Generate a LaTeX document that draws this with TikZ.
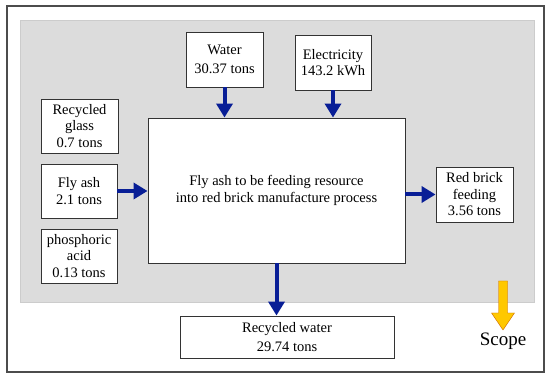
\documentclass[tikz,border=0pt]{standalone}
\usepackage{fontspec}
\setmainfont{Liberation Serif}
\usetikzlibrary{arrows.meta,positioning}

\definecolor{flowblue}{RGB}{8,30,150}
\definecolor{scopegrey}{RGB}{220,220,220}
\definecolor{scopeyellow}{RGB}{255,200,0}

\tikzstyle{item} = [
rectangle,
draw=black!80,
line width=0.9pt,
fill=white,
inner sep=0pt,
align=center,
font=\fontsize{14.5}{16.5}\selectfont
]
\tikzstyle{flow} = [
line width=4pt,
flowblue,
-{Triangle[length=14pt,width=16pt]}
]

\begin{document}
\begin{tikzpicture}[
x=1pt,
y=-1pt
]

\useasboundingbox (0,0) rectangle (550,379);

\draw [black!70, line width=1.2pt] (7,6) rectangle (544,372);

\draw [fill=scopegrey, draw=black!20, line width=1pt] (20,21) rectangle (534,303);

\node (main) [item, minimum width=257pt, minimum height=145pt]
at (276.5,190.5)
{Fly ash to be feeding resource\\ into red brick manufacture process};

\node (water) [item, minimum width=77pt, minimum height=55pt,
font=\fontsize{14.5}{19}\selectfont]
at (224.5,59.5)
{Water\\30.37 tons};

\node (elec) [item, minimum width=76pt, minimum height=55pt]
at (333,62.5)
{Electricity\\143.2 kWh};

\node (glass) [item, minimum width=77pt, minimum height=54pt]
at (79.5,126)
{Recycled\\glass\\ 0.7 tons};

\node (flyash) [item, minimum width=76pt, minimum height=54pt]
at (79,191)
{Fly ash\\2.1 tons};

\node (acid) [item, minimum width=76pt, minimum height=54pt]
at (79,256)
{phosphoric\\acid\\0.13 tons};

\node (brick) [item, minimum width=77pt, minimum height=55pt]
at (474.5,194.5)
{Red brick\\feeding\\3.56 tons};

\node (recwater) [item, minimum width=214pt, minimum height=42pt,
font=\fontsize{14.5}{19}\selectfont]
at (287,337)
{Recycled water\\29.74 tons};

\node (scope) [font=\fontsize{19}{22}\selectfont]
at (503,341)
{Scope};

\draw [flow] (water) -- (water |- main.north);

\draw [flow] (elec) -- (elec |- main.north);

\draw [flow] (flyash.east) -- (flyash.east -| main.west);

\draw [flow] (main.east |- brick.west) -- (brick.west);

\draw [flow] (main.south) -- (main.south |- recwater.north);

% scope marker
\draw [fill=scopeyellow, draw=orange!80!black, line width=0.4pt]
(498.5,281) -- (507.5,281) -- (507.5,313) -- (514.5,313)
-- (503,330) -- (491.5,313) -- (498.5,313) -- cycle;

\end{tikzpicture}
\end{document}
